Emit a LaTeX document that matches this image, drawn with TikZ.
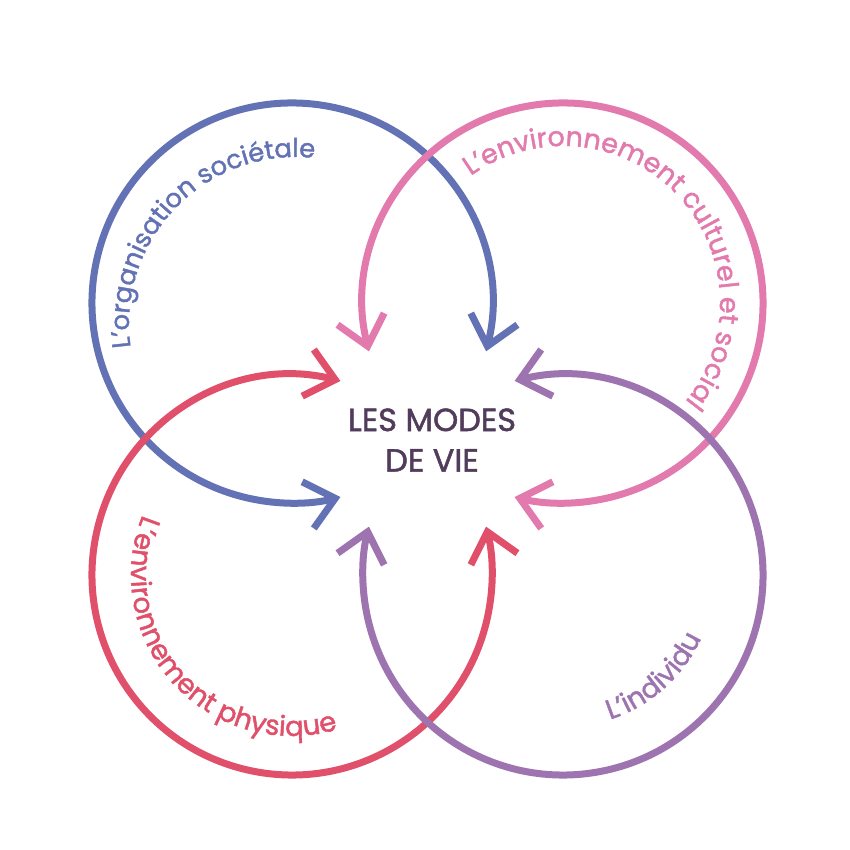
\documentclass[tikz,border=0pt]{standalone}
\usepackage{fontspec}
\setmainfont{Poppins}[UprightFeatures={FakeBold=1.5}]
\usetikzlibrary{arrows.meta,decorations.text}
\definecolor{cblue}{RGB}{98,114,180}
\definecolor{cpink}{RGB}{226,122,174}
\definecolor{cred}{RGB}{224,80,106}
\definecolor{cpurple}{RGB}{157,115,176}
\definecolor{cdark}{RGB}{82,60,92}
\newcommand{\labf}{\fontsize{27.5}{30}\selectfont}
\newcommand{\labg}{\fontsize{27}{30}\selectfont}
\newcommand{\labh}{\fontsize{25.8}{30}\selectfont}
\begin{document}
\begin{tikzpicture}[x=1pt,y=1pt,
  ring/.style={line width=7pt, >={Straight Barb[length=28pt,width=48pt,sharp]}},
  lab/.style={decorate, decoration={text along path, text align=left, text color=#1}}
]
\useasboundingbox (0,0) rectangle (850,850);
\fill[white] (0,0) rectangle (850,850);
\coordinate (B) at (292,547);
\coordinate (P) at (563,547);
\coordinate (R) at (292,275);
\coordinate (U) at (563,275);
\coordinate (Bt) at (296,526);
% rings
\draw[ring, cblue, <->] ([shift={(-14:200)}]B) arc[start angle=-14, end angle=284, radius=200];
\draw[ring, cpink, <->] ([shift={(194:200)}]P) arc[start angle=194, end angle=-104, radius=200];
\draw[ring, cred, <->] ([shift={(76:200)}]R) arc[start angle=76, end angle=374, radius=200];
\draw[ring, cpurple, <->] ([shift={(104:200)}]U) arc[start angle=104, end angle=-194, radius=200];
% labels
\path[lab=cblue, decoration={text={|\labh|L’organisation sociétale}}]
  ([shift={(188:167)}]Bt) arc[start angle=188, end angle=40, radius=167];
\path[lab=cpink, decoration={text={|\labg|L’environnement culturel et social}}]
  ([shift={(126:157)}]P) arc[start angle=126, end angle=-80, radius=157];
\path[lab=cred, decoration={text={|\labf|L’environnement physique}}]
  ([shift={(158:161)}]R) arc[start angle=158, end angle=320, radius=161];
\path[lab=cpurple, decoration={text={|\labf|L’individu}}]
  ([shift={(-72:152)}]U) arc[start angle=-72, end angle=10, radius=152];
% centre
\node[text=cdark, font=\fontsize{32}{40.5}\selectfont, align=center] (modes) at (432,410) {LES MODES\\DE VIE};
\end{tikzpicture}
\end{document}
